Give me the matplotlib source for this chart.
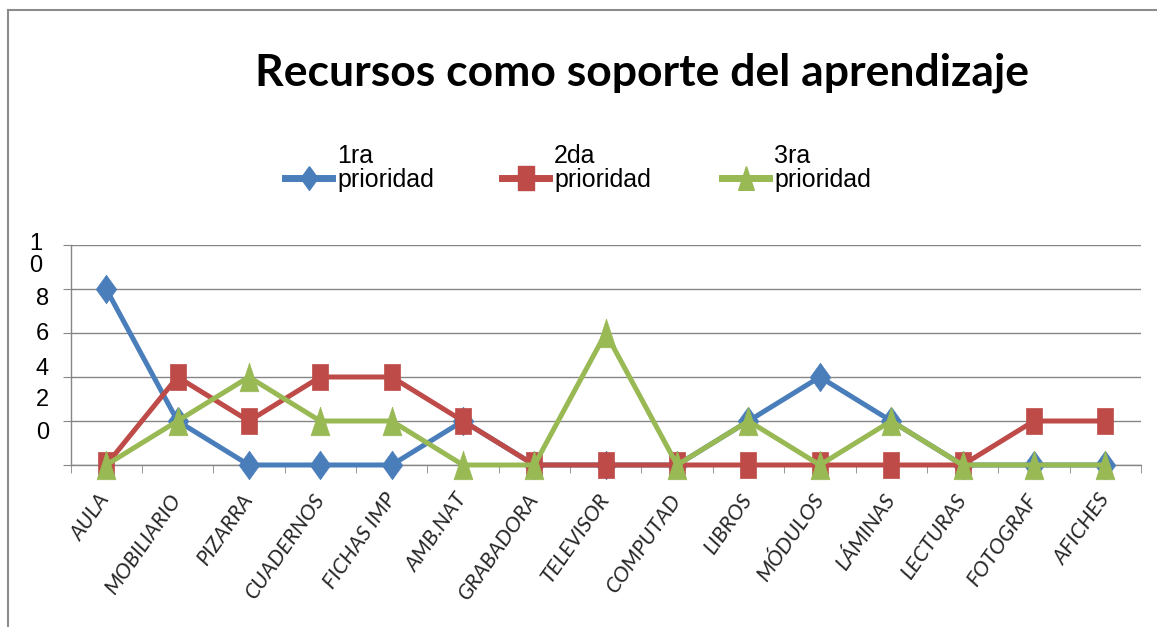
import matplotlib
matplotlib.use("Agg")
import matplotlib.pyplot as plt
from matplotlib.lines import Line2D
from matplotlib.transforms import blended_transform_factory
from matplotlib.ticker import FixedLocator

# ---------------- data ----------------
categories = ["AULA", "MOBILIARIO", "PIZARRA", "CUADERNOS", "FICHAS IMP", "AMB.NAT",
              "GRABADORA", "TELEVISOR", "COMPUTAD", "LIBROS", "MÓDULOS", "LÁMINAS",
              "LECTURAS", "FOTOGRAF", "AFICHES"]
prioridad_1 = [8, 2, 0, 0, 0, 2, 0, 0, 0, 2, 4, 2, 0, 0, 0]
prioridad_2 = [0, 4, 2, 4, 4, 2, 0, 0, 0, 0, 0, 0, 0, 2, 2]
prioridad_3 = [0, 2, 4, 2, 2, 0, 0, 6, 0, 2, 0, 2, 0, 0, 0]
series_labels = ["1ra\nprioridad", "2da\nprioridad", "3ra\nprioridad"]
ytick_values = [0, 2, 4, 6, 8, 10]
ytick_labels = ["0", "2", "4", "6", "8", "1\n0"]
title = "Recursos como soporte del aprendizaje"

# ---------------- style ----------------
colors = ["#4A7EBB", "#BE4B48", "#98B954"]
diamond = [(0, 1), (0.72, 0), (0, -1), (-0.72, 0), (0, 1)]
square = [(-0.64, -1), (0.64, -1), (0.64, 1), (-0.64, 1), (-0.64, -1)]
triangle = [(0, 1), (0.66, -1), (-0.66, -1), (0, 1)]
markers = [diamond, square, triangle]
msizes = [20.5, 18.5, 20.5]
grid_c = "#868686"

W, H = 1157, 627
fig = plt.figure(figsize=(W / 100, H / 100), dpi=100)
fig.patch.set_facecolor("white")

def fx(px):
    return px / W

def fy(py):
    return 1 - py / H

ax = fig.add_axes([fx(70.5), fy(465), fx(1141) - fx(70.5), fy(245) - fy(465)])

x = list(range(len(categories)))
for vals, c, m, ms in zip([prioridad_1, prioridad_2, prioridad_3], colors, markers, msizes):
    ax.plot(x, vals, color=c, lw=3.6, marker=m, ms=ms, mfc=c, mec=c, mew=0.5,
            solid_joinstyle="miter", zorder=3, clip_on=False)

ax.set_xlim(-0.5, len(categories) - 0.5)
ax.set_ylim(0, 10)

# grid / spines
ax.yaxis.set_major_locator(FixedLocator(ytick_values))
ax.grid(axis="y", color=grid_c, lw=1.0, zorder=1)
ax.grid(axis="x", visible=False)
for s in ["top", "right"]:
    ax.spines[s].set_visible(False)
for s in ["left", "bottom"]:
    ax.spines[s].set_color(grid_c)
    ax.spines[s].set_linewidth(1.0)
ax.tick_params(axis="y", which="major", direction="out", length=6, color=grid_c,
               labelleft=False)

# x ticks at boundaries, labels at categories
ax.set_xticks(x)
ax.set_xticks([i - 0.5 for i in range(len(categories) + 1)], minor=True)
ax.tick_params(axis="x", which="minor", direction="out", length=6, color=grid_c)
ax.tick_params(axis="x", which="major", length=0, pad=22)
ax.set_xticklabels(categories, rotation=55, ha="right", va="center",
                   rotation_mode="anchor", fontsize=15.5, style="italic",
                   family=["Lato", "DejaVu Sans"], color="#262626")

# odd-looking y labels, as in the reference
ylab_pos = [1.45, 2.95, 4.35, 5.95, 7.55, 9.55]
ylab_x = [49, 49, 49, 49, 49, 42]
tr = blended_transform_factory(fig.transFigure, ax.transData)
for lab, yp, xp in zip(ytick_labels, ylab_pos, ylab_x):
    ax.text(fx(xp), yp, lab, transform=tr, ha="right", va="center",
            fontsize=17, family=["Liberation Sans", "DejaVu Sans"], color="black",
            linespacing=1.0, multialignment="right", clip_on=False)

# title
fig.text(fx(642), fy(73), title, ha="center", va="center", fontsize=32,
         fontweight="bold", family=["Lato", "DejaVu Sans"], color="black")

# legend (drawn manually to mimic layout)
leg_x = [285, 502, 722]
leg_y = 178
for lab, c, m, lx in zip(series_labels, colors, markers, leg_x):
    fig.add_artist(Line2D([fx(lx), fx(lx + 47)], [fy(leg_y), fy(leg_y)],
                          transform=fig.transFigure, color=c, lw=5))
    fig.add_artist(Line2D([fx(lx + 23.5)], [fy(leg_y)], transform=fig.transFigure,
                          marker=m, ms=17, color=c, mfc=c, mec=c, lw=0))
    fig.text(fx(lx + 52), fy(168), lab, ha="left", va="center", fontsize=18,
             family=["Liberation Sans", "DejaVu Sans"], linespacing=0.98, color="black")

# chart border (partially visible)
fig.add_artist(Line2D([fx(8), fx(8)], [0, fy(10)], transform=fig.transFigure,
                      color="#8c8c8c", lw=1.5))
fig.add_artist(Line2D([fx(8), 1], [fy(10), fy(10)], transform=fig.transFigure,
                      color="#8c8c8c", lw=1.5))

fig.savefig("out.png", dpi=100, facecolor="white")
